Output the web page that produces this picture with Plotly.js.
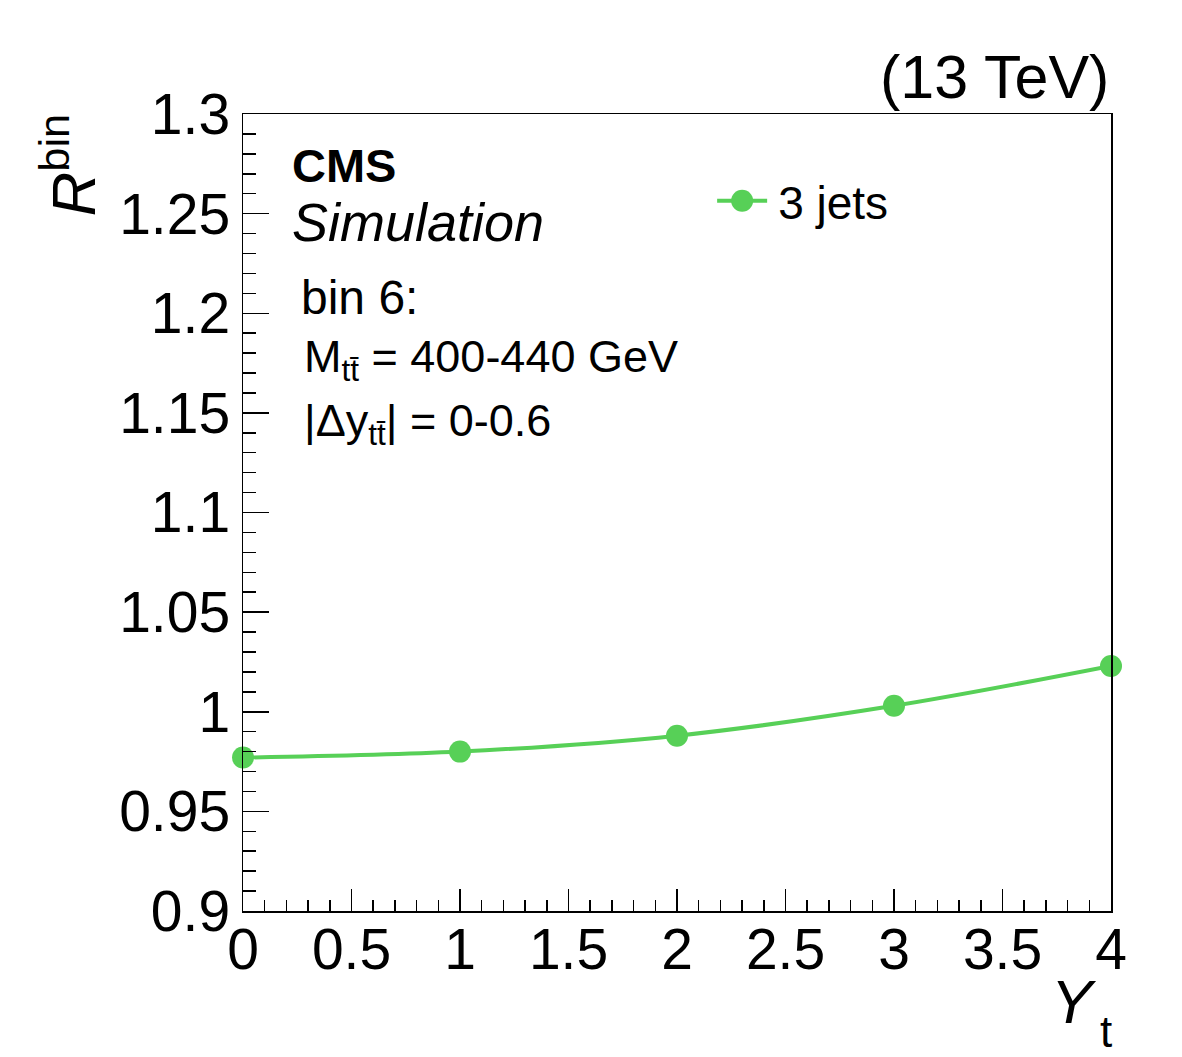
<!DOCTYPE html>
<html>
<head>
<meta charset="utf-8">
<script src="https://cdn.plot.ly/plotly-3.0.1.min.js"></script>
<style>html,body{margin:0;padding:0;background:#fff;}</style>
</head>
<body>
<div id="plot" style="width:1182px;height:1057px;"></div>
<script>
// Data
const yt = [0, 1, 2, 3, 4];
const rbin3jets = [0.977, 0.980, 0.988, 1.003, 1.023];
const seriesName = '3 jets';
const yTickVals = [0.9, 0.95, 1, 1.05, 1.1, 1.15, 1.2, 1.25, 1.3];
const yTickText = ['0.9', '0.95', '1', '1.05', '1.1', '1.15', '1.2', '1.25', '1.3'];
const xTickVals = [0, 0.5, 1, 1.5, 2, 2.5, 3, 3.5, 4];
const xTickText = ['0', '0.5', '1', '1.5', '2', '2.5', '3', '3.5', '4'];

const green = 'rgb(87,208,87)';
const FONT = 'Liberation Sans, Arial, Helvetica, sans-serif';

const trace = {
  x: yt, y: rbin3jets, name: seriesName,
  type: 'scatter', mode: 'lines+markers',
  line: {color: green, width: 4, shape: 'spline', smoothing: 1},
  marker: {color: green, size: 22},
  cliponaxis: false
};

const layout = {
  width: 1182, height: 1057,
  margin: {l: 243, r: 71, t: 114, b: 146, pad: 0},
  paper_bgcolor: '#fff', plot_bgcolor: '#fff',
  font: {family: FONT, color: '#000'},
  showlegend: true,
  legend: {
    x: 0.552, y: 0.891, xanchor: 'left', yanchor: 'middle',
    font: {family: FONT, size: 46, color: '#000'},
    bgcolor: 'rgba(0,0,0,0)', borderwidth: 0
  },
  xaxis: {
    range: [0, 4], showgrid: false, zeroline: false,
    showline: true, linecolor: '#000', linewidth: 1.5, mirror: true,
    ticks: 'inside', ticklen: 22, tickwidth: 1.5, tickcolor: '#000',
    tickvals: xTickVals, ticktext: xTickText,
    tickfont: {family: FONT, size: 57, color: '#000'},
    ticklabelstandoff: -12,
    minor: {ticks: 'inside', ticklen: 11, tickwidth: 1.5, tickcolor: '#000', dtick: 0.1, showgrid: false}
  },
  yaxis: {
    range: [0.9, 1.3], showgrid: false, zeroline: false,
    showline: true, linecolor: '#000', linewidth: 1.5, mirror: true,
    ticks: 'inside', ticklen: 26, tickwidth: 1.5, tickcolor: '#000',
    tickvals: yTickVals, ticktext: yTickText,
    tickfont: {family: FONT, size: 57, color: '#000'},
    ticklabelstandoff: 0,
    minor: {ticks: 'inside', ticklen: 13, tickwidth: 1.5, tickcolor: '#000', dtick: 0.01, showgrid: false}
  },
  annotations: [
    {xref: 'paper', yref: 'paper', x: 1, y: 1.046, xanchor: 'right', yanchor: 'middle',
     text: '(13 TeV)', showarrow: false, font: {family: FONT, size: 61, color: '#000'}},
    {xref: 'paper', yref: 'paper', x: 0.054, y: 0.936, xanchor: 'left', yanchor: 'middle',
     text: '<b>CMS</b>', showarrow: false, font: {family: FONT, size: 47, color: '#000'}},
    {xref: 'paper', yref: 'paper', x: 0.054, y: 0.864, xanchor: 'left', yanchor: 'middle',
     text: '<i>Simulation</i>', showarrow: false, font: {family: FONT, size: 54, color: '#000'}},
    {xref: 'paper', yref: 'paper', x: 0.064, y: 0.770, xanchor: 'left', yanchor: 'middle',
     text: 'bin 6:', showarrow: false, font: {family: FONT, size: 48, color: '#000'}},
    {xref: 'paper', yref: 'paper', x: 0.068, y: 0.692, xanchor: 'left', yanchor: 'middle',
     text: 'M<sub>tt\u0304</sub> = 400-440 GeV', showarrow: false, font: {family: FONT, size: 45, color: '#000'}},
    {xref: 'paper', yref: 'paper', x: 0.068, y: 0.612, xanchor: 'left', yanchor: 'middle',
     text: '|\u0394y<sub>tt\u0304</sub>| = 0-0.6', showarrow: false, font: {family: FONT, size: 45, color: '#000'}},
    {xref: 'paper', yref: 'paper', x: -0.2, y: 1.003, xanchor: 'center', yanchor: 'top',
     textangle: -90, text: '<i>R</i><sup>bin</sup>', showarrow: false, font: {family: FONT, size: 62, color: '#000'}},
    {xref: 'paper', yref: 'paper', x: 0.986, y: -0.1136, xanchor: 'right', yanchor: 'middle',
     text: '<i>Y</i>', showarrow: false, font: {family: FONT, size: 62, color: '#000'}},
    {xref: 'paper', yref: 'paper', x: 0.985, y: -0.1506, xanchor: 'left', yanchor: 'middle',
     text: 't', showarrow: false, font: {family: FONT, size: 44, color: '#000'}}
  ]
};

Plotly.newPlot('plot', [trace], layout, {staticPlot: true, displayModeBar: false}).then(gd => {
  // ROOT-style legend symbol: longer line, bigger marker, wider gap before the label
  const leg = gd.querySelector('.legend');
  if (!leg) return;
  leg.querySelectorAll('.legendpoints path.scatterpts').forEach(p =>
    p.setAttribute('d', 'M11,0A11,11 0 1,1 0,-11A11,11 0 0,1 11,0Z'));
  leg.querySelectorAll('.legendlines path').forEach(p => p.setAttribute('d', 'M-5,0h50'));
  leg.querySelectorAll('.legendtext').forEach(t => t.setAttribute('x', 56));
  leg.querySelectorAll('[clip-path]').forEach(e => e.removeAttribute('clip-path'));
});
</script>
</body>
</html>
